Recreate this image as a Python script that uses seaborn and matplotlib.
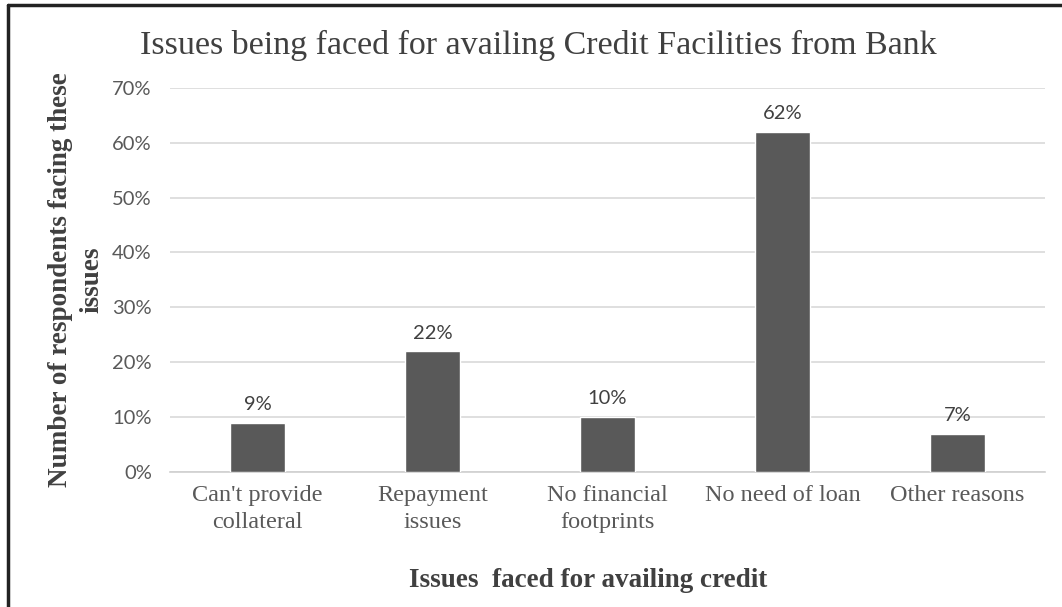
import matplotlib
matplotlib.use("Agg")
import matplotlib.pyplot as plt
from matplotlib.lines import Line2D
from matplotlib.ticker import FuncFormatter, MultipleLocator
import seaborn as sns
import pandas as pd

categories = ["Can't provide\ncollateral", "Repayment\nissues", "No financial\nfootprints",
              "No need of loan", "Other reasons"]
shares = [9, 22, 10, 62, 7]
value_labels = ["9%", "22%", "10%", "62%", "7%"]

df = pd.DataFrame({"issue": categories, "share": shares})

sns.set_theme(style="white")
plt.rcParams["font.family"] = ["Liberation Serif", "DejaVu Serif"]

fig = plt.figure(figsize=(10.62, 6.07), dpi=100)
ax = fig.add_axes([0.160, 0.2224, 0.824, 0.633])

sns.barplot(data=df, x="issue", y="share", color="#595959", saturation=1,
            width=0.31, ax=ax, zorder=3)

ax.set_ylim(0, 70)
ax.yaxis.set_major_locator(MultipleLocator(10))
ax.yaxis.set_major_formatter(FuncFormatter(lambda v, p: f"{v:.0f}%"))
ax.grid(axis="y", color="#d9d9d9", linewidth=1.2, zorder=0)
ax.set_axisbelow(True)
for side in ["top", "right", "left"]:
    ax.spines[side].set_visible(False)
ax.spines["bottom"].set_color("#d0d0d0")
ax.spines["bottom"].set_linewidth(1.2)
ax.tick_params(axis="both", length=0, labelcolor="#595959")
ax.tick_params(axis="y", pad=13)
ax.tick_params(axis="x", pad=9, labelsize=17.5)
for t in ax.get_yticklabels():
    t.set_fontfamily(["Lato", "DejaVu Sans"])
    t.set_fontsize(14.5)
for t in ax.get_xticklabels():
    t.set_linespacing(1.4)

for patch, lab in zip(ax.patches, value_labels):
    ax.annotate(lab, (patch.get_x() + patch.get_width() / 2, patch.get_height()),
                xytext=(0, 7), textcoords="offset points", ha="center", va="bottom",
                fontsize=14.5, color="#404040", family=["Lato", "DejaVu Sans"])

ax.set_xlabel("Issues  faced for availing credit", fontsize=19.5, fontweight="bold",
              color="#404040")
ax.xaxis.set_label_coords(0.478, -0.25)
ax.set_ylabel("Number of respondents facing these\nissues", fontsize=19.5,
              fontweight="bold", color="#404040", labelpad=6, linespacing=1.3)

fig.text(0.507, 0.925, "Issues being faced for availing Credit Facilities from Bank",
         ha="center", va="center", fontsize=24.5, color="#404040")

# frame edges along the top and left of the figure
fig.add_artist(Line2D([0.0075, 1.0], [0.992, 0.992], transform=fig.transFigure,
                      color="#222222", linewidth=2.5))
fig.add_artist(Line2D([0.0075, 0.0075], [0.0, 0.992], transform=fig.transFigure,
                      color="#222222", linewidth=2.5))

fig.savefig("out.png", dpi=100, facecolor="white")
